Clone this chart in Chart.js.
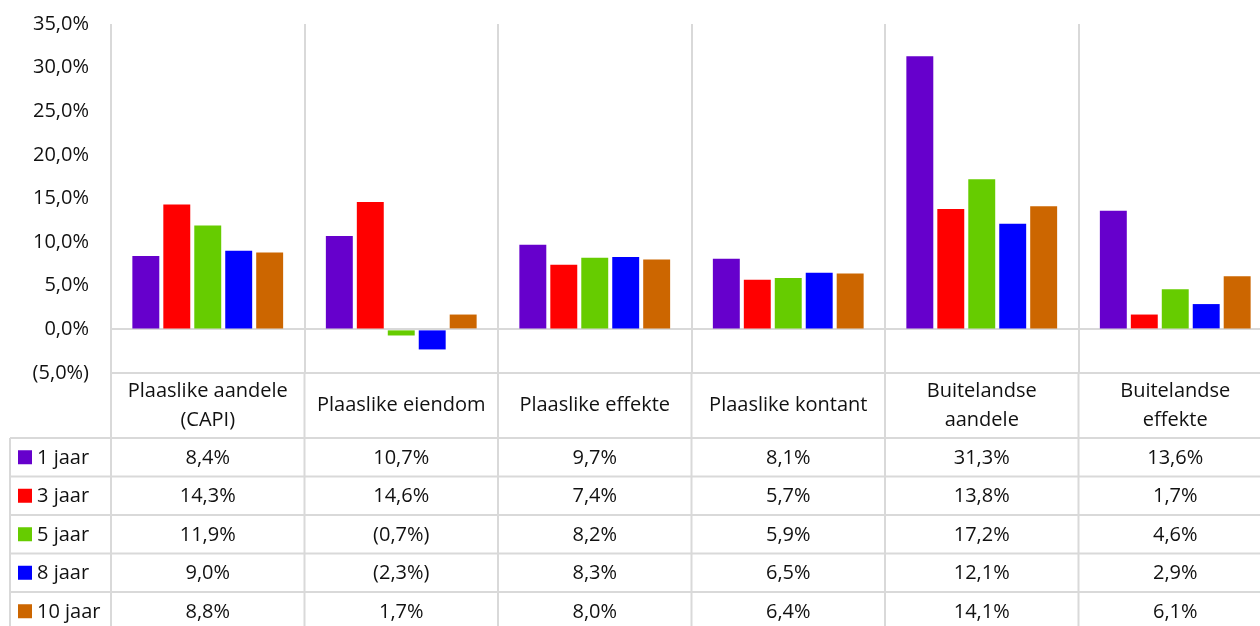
<!DOCTYPE html>
<html>
<head>
<meta charset="utf-8">
<script src="https://cdn.jsdelivr.net/npm/chart.js@4/dist/chart.umd.min.js"></script>
<style>
  html, body { margin: 0; padding: 0; background: #fff; overflow: hidden; }
  #wrap { width: 1280px; height: 626px; }
</style>
</head>
<body>
<div id="wrap"><canvas id="barChart" width="1280" height="626"></canvas></div>
<script>
// categories and series
const categories = [
  ['Plaaslike aandele', '(CAPI)'],
  ['Plaaslike eiendom'],
  ['Plaaslike effekte'],
  ['Plaaslike kontant'],
  ['Buitelandse', 'aandele'],
  ['Buitelandse', 'effekte']
];
const seriesNames = ['1 jaar', '3 jaar', '5 jaar', '8 jaar', '10 jaar'];
const seriesColors = ['#6600CC', '#FF0000', '#66CC00', '#0000FF', '#CC6600'];
const jaar1 = [8.4, 10.7, 9.7, 8.1, 31.3, 13.6];
const jaar3 = [14.3, 14.6, 7.4, 5.7, 13.8, 1.7];
const jaar5 = [11.9, -0.7, 8.2, 5.9, 17.2, 4.6];
const jaar8 = [9.0, -2.3, 8.3, 6.5, 12.1, 2.9];
const jaar10 = [8.8, 1.7, 8.0, 6.4, 14.1, 6.1];
const yMin = -5, yMax = 35, yStep = 5;

const seriesData = [jaar1, jaar3, jaar5, jaar8, jaar10];
const FONT = '"Open Sans", "Noto Sans", sans-serif';
const FSIZE = 20;
const GRID = '#D9D9D9';

function fmt(v) {
  const s = Math.abs(v).toFixed(1).replace('.', ',') + '%';
  return v < 0 ? '(' + s + ')' : s;
}

// data table under the plot, positioned from the x scale
const dataTable = {
  id: 'dataTable',
  afterDraw(chart) {
    const { ctx, chartArea, scales } = chart;
    const x = scales.x;
    const n = categories.length;
    const colW = x.width / n;
    const top = chartArea.bottom;
    const headH = 65;
    const rowH = 38.5;
    const legendLeft = 10;
    const bottom = top + headH + rowH * seriesNames.length;

    ctx.save();
    ctx.strokeStyle = GRID;
    ctx.lineWidth = 2;

    // vertical lines through the header and rows
    for (let i = 0; i <= n; i++) {
      const px = x.left + i * colW;
      ctx.beginPath();
      ctx.moveTo(px, top);
      ctx.lineTo(px, bottom);
      ctx.stroke();
    }
    ctx.beginPath();
    ctx.moveTo(legendLeft, top + headH);
    ctx.lineTo(legendLeft, bottom);
    ctx.stroke();

    // horizontal lines
    ctx.beginPath();
    ctx.moveTo(x.left, top);
    ctx.lineTo(x.right, top);
    ctx.stroke();
    for (let r = 0; r <= seriesNames.length; r++) {
      const py = top + headH + r * rowH;
      ctx.beginPath();
      ctx.moveTo(legendLeft, py);
      ctx.lineTo(x.right, py);
      ctx.stroke();
    }

    ctx.fillStyle = '#111';
    ctx.font = FSIZE + 'px ' + FONT;
    ctx.textAlign = 'center';
    ctx.textBaseline = 'middle';

    // header: category names
    categories.forEach((lines, i) => {
      const cx = x.getPixelForValue(i);
      const lh = 29;
      const y0 = top + headH / 2 - (lines.length - 1) * lh / 2;
      lines.forEach((t, k) => ctx.fillText(t, cx, y0 + k * lh));
    });

    // rows
    seriesNames.forEach((name, r) => {
      const cy = top + headH + r * rowH + rowH / 2;
      ctx.fillStyle = seriesColors[r];
      ctx.fillRect(18, cy - 7, 14, 14);
      ctx.fillStyle = '#111';
      ctx.textAlign = 'left';
      ctx.fillText(name, 37, cy + 1);
      ctx.textAlign = 'center';
      seriesData[r].forEach((v, i) => {
        ctx.fillText(fmt(v), x.getPixelForValue(i), cy + 1);
      });
    });
    ctx.restore();
  }
};

new Chart(document.getElementById('barChart'), {
  type: 'bar',
  data: {
    labels: categories.map(c => c.join(' ')),
    datasets: seriesNames.map((name, i) => ({
      label: name,
      data: seriesData[i],
      backgroundColor: seriesColors[i],
      borderWidth: 0,
      categoryPercentage: 0.8,
      barPercentage: 0.87
    }))
  },
  options: {
    responsive: false,
    animation: false,
    devicePixelRatio: 1,
    layout: { padding: { top: 24, right: 8, bottom: 253, left: 0 } },
    plugins: {
      legend: { display: false },
      tooltip: { enabled: false }
    },
    scales: {
      x: {
        offset: true,
        ticks: { display: false },
        border: { display: false },
        grid: { color: GRID, lineWidth: 2, drawTicks: false, offset: true },
        afterFit: s => { s.height = 0; s.paddingLeft = 0; s.paddingRight = 0; }
      },
      y: {
        min: yMin,
        max: yMax,
        border: { display: false },
        ticks: {
          stepSize: yStep,
          padding: 22,
          color: '#111',
          font: { family: FONT, size: FSIZE },
          callback: v => fmt(v)
        },
        grid: {
          drawTicks: false,
          lineWidth: 2,
          color: c => (c.tick && (c.tick.value === 0 || c.tick.value === yMin)) ? GRID : 'rgba(0,0,0,0)'
        },
        afterFit: s => { s.width = 111; s.paddingTop = 0; s.paddingBottom = 0; }
      }
    }
  },
  plugins: [dataTable]
});
</script>
</body>
</html>
